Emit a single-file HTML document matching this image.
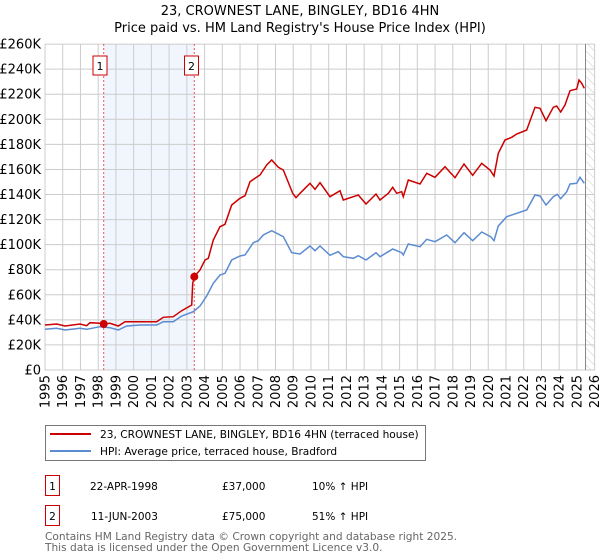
<!DOCTYPE html>
<html><head><meta charset="utf-8"><style>
body{margin:0;background:#fff;width:600px;height:560px;overflow:hidden}
svg{display:block;font-family:"DejaVu Sans","Liberation Sans",sans-serif}
</style></head><body>
<svg width="600" height="560" viewBox="0 0 600 560" xmlns="http://www.w3.org/2000/svg">
<defs>
<pattern id="h" width="6" height="6" patternUnits="userSpaceOnUse" patternTransform="rotate(-45)">
<line x1="0" y1="0" x2="0" y2="6" stroke="#ccc" stroke-width="1"/></pattern>
</defs>
<text x="300" y="15" text-anchor="middle" font-size="13">23, CROWNEST LANE, BINGLEY, BD16 4HN</text>
<text x="300" y="32" text-anchor="middle" font-size="13">Price paid vs. HM Land Registry's House Price Index (HPI)</text>
<rect x="103.7" y="44" width="90.6" height="326" fill="#eef3fc" opacity="0.8"/>
<rect x="585.5" y="44" width="9.5" height="326" fill="url(#h)"/>
<g id="grid" stroke="#ccc" stroke-width="1"></g>
<line x1="585.5" y1="44" x2="585.5" y2="370" stroke="#888" stroke-width="1"/>
<line x1="103.7" y1="44" x2="103.7" y2="370" stroke="#e55" stroke-width="1" stroke-dasharray="2,2"/>
<line x1="194.3" y1="44" x2="194.3" y2="370" stroke="#e55" stroke-width="1" stroke-dasharray="2,2"/>
<rect x="93" y="56" width="14" height="19" fill="#fff" stroke="#c00"/>
<text x="100" y="70" text-anchor="middle" font-size="11">1</text>
<rect x="184.5" y="56" width="14" height="19" fill="#fff" stroke="#c00"/>
<text x="191.5" y="70" text-anchor="middle" font-size="11">2</text>
<polyline fill="none" stroke="#5b8bd0" stroke-width="1.5" points="45,329.3 56.7,328.3 65,330 80,328.3 86.7,329.3 100,326.7 110,327.7 118.3,330 126.7,326 140,325 156.7,325 163.3,321.7 173.3,321.7 181.7,316 193.3,311.7 200,306 206.7,296 213.3,283.3 220,275 225,273.3 231.7,260 240,256 245,255 253.3,242.7 258.3,240.7 263.3,235 271.7,230.7 283.3,236.7 291.7,252.7 300,254 310,246 315,250.7 320,246 330,255.3 338.3,251.7 343.3,256.7 353.3,258.3 358.3,255.7 366,260 376,252.7 380,256.7 388.3,251.7 392.7,249 401.7,252.7 403.3,255 408.3,244 420,246.7 426.7,239.3 435,241.7 446.7,235 455,242.7 464,232.7 472.7,240.7 481.7,232 490.7,236.7 494,240.7 498.3,226 506.7,216.7 516.7,213.3 526.7,210 535,195 540,196 546,205 553.3,196.7 557.3,194.3 560.7,198.7 566.7,191.7 570,184 576.7,183.3 580,177.3 584.3,183.3"/>
<polyline fill="none" stroke="#cc0000" stroke-width="1.5" points="45,325 56.7,324 65,326 80,324 86.7,325.7 90,322.7 100,323.3 103.7,324 110,323.3 118.3,326 125,321.7 140,321.7 156.7,321.7 163.3,317.3 173.3,316.7 181.7,310.7 190,306 191.7,305 192.7,283.3 194.3,276.7 200,270 205,260 208.3,258.3 213.3,240 220,226.7 225,224.3 231.7,205 240,198.3 245,195.7 250,181.7 255,178.3 260,175 266.7,165 271.7,160 278.3,167.3 283.3,170 292.7,193.3 296,197.7 300,193.3 310,183.3 315,189.3 320,182.7 330,196.7 340,190.7 343.3,200 353.3,196.7 358.3,195 366,204 376,194 380,200 388.3,193.3 392.7,187.3 396.7,193.3 401.7,191.7 403.3,196.7 408.3,180 420,184 426.7,173.3 435,177.3 445,166.7 455,177.7 464,164 472.7,175.3 481.7,163.3 490,170 494,176 498.3,153.3 505,140 511.7,137.3 516.7,134 526.7,130 535,107.3 540,108.3 546,120.7 553.3,107.3 556.7,106 560.7,112 565,105 570,90.7 576.7,89 579,80 581.7,83.3 584.3,88.3"/>
<circle cx="103.7" cy="324" r="4" fill="#cc0000"/>
<circle cx="194.3" cy="276.7" r="4" fill="#cc0000"/>
<g id="ylab" font-size="13" text-anchor="end"></g>
<g id="xlab" font-size="13"></g>
<rect x="45.5" y="425.5" width="380" height="35" fill="#fff" stroke="#777"/>
<line x1="50" y1="434" x2="91" y2="434" stroke="#cc0000" stroke-width="2"/>
<line x1="50" y1="451" x2="91" y2="451" stroke="#5b8bd0" stroke-width="2"/>
<text x="100" y="438" font-size="10.6">23, CROWNEST LANE, BINGLEY, BD16 4HN (terraced house)</text>
<text x="100" y="455" font-size="10.6">HPI: Average price, terraced house, Bradford</text>
<rect x="45.5" y="475.5" width="14" height="20" fill="none" stroke="#c00"/>
<text x="52.5" y="490" text-anchor="middle" font-size="10.6">1</text>
<text x="90" y="490" font-size="10.5">22-APR-1998</text>
<text x="222" y="490" font-size="10.5">£37,000</text>
<text x="312" y="490" font-size="10.5">10% ↑ HPI</text>
<rect x="45.5" y="505.5" width="14" height="20" fill="none" stroke="#c00"/>
<text x="52.5" y="520" text-anchor="middle" font-size="10.6">2</text>
<text x="91" y="520" font-size="10.5">11-JUN-2003</text>
<text x="222" y="520" font-size="10.5">£75,000</text>
<text x="312" y="520" font-size="10.5">51% ↑ HPI</text>
<text x="45" y="540" font-size="10.6" fill="#666">Contains HM Land Registry data © Crown copyright and database right 2025.</text>
<text x="45" y="551" font-size="10.6" fill="#666">This data is licensed under the Open Government Licence v3.0.</text>
</svg>
<script>
var ns="http://www.w3.org/2000/svg",g=document.getElementById("grid"),yl=document.getElementById("ylab"),xl=document.getElementById("xlab");
function el(p,t,a,txt){var e=document.createElementNS(ns,t);for(var k in a)e.setAttribute(k,a[k]);if(txt)e.textContent=txt;p.appendChild(e);return e;}
for(var i=0;i<=13;i++){var y=370-i*25.07;el(g,"line",{x1:45,x2:595,y1:y,y2:y});
el(yl,"text",{x:41,y:y+4.5},i==0?"£0":"£"+(i*20)+"K");}
for(var j=0;j<=31;j++){var x=45+j*17.73;el(g,"line",{x1:x,x2:x,y1:44,y2:370});
el(xl,"text",{x:0,y:0,"text-anchor":"end",transform:"translate("+(x+4.5)+",375) rotate(-90)"},String(1995+j));}
</script>
</body></html>
